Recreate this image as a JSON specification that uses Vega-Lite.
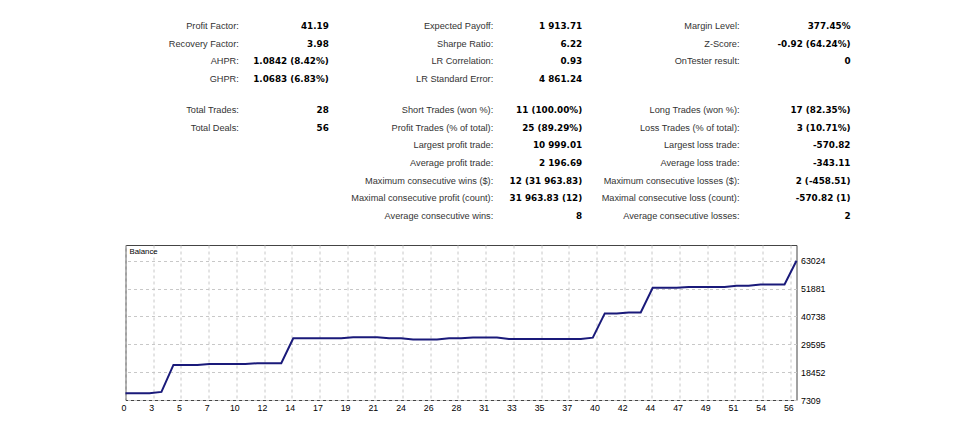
{
  "$schema": "https://vega.github.io/schema/vega-lite/v6.json",
  "padding": {"left": 120.5, "top": 0, "right": 0, "bottom": 0},
  "background": "white",
  "spacing": 19,
  "datasets": {
    "stats": [
      {"g": 1, "r": 1, "label": "Profit Factor:", "value": "41.19"},
      {"g": 1, "r": 2, "label": "Recovery Factor:", "value": "3.98"},
      {"g": 1, "r": 3, "label": "AHPR:", "value": "1.0842 (8.42%)"},
      {"g": 1, "r": 4, "label": "GHPR:", "value": "1.0683 (6.83%)"},
      {"g": 1, "r": 5, "label": "Total Trades:", "value": "28"},
      {"g": 1, "r": 6, "label": "Total Deals:", "value": "56"},
      {"g": 2, "r": 1, "label": "Expected Payoff:", "value": "1 913.71"},
      {"g": 2, "r": 2, "label": "Sharpe Ratio:", "value": "6.22"},
      {"g": 2, "r": 3, "label": "LR Correlation:", "value": "0.93"},
      {"g": 2, "r": 4, "label": "LR Standard Error:", "value": "4 861.24"},
      {"g": 2, "r": 5, "label": "Short Trades (won %):", "value": "11 (100.00%)"},
      {"g": 2, "r": 6, "label": "Profit Trades (% of total):", "value": "25 (89.29%)"},
      {"g": 2, "r": 7, "label": "Largest profit trade:", "value": "10 999.01"},
      {"g": 2, "r": 8, "label": "Average profit trade:", "value": "2 196.69"},
      {"g": 2, "r": 9, "label": "Maximum consecutive wins ($):", "value": "12 (31 963.83)"},
      {"g": 2, "r": 10, "label": "Maximal consecutive profit (count):", "value": "31 963.83 (12)"},
      {"g": 2, "r": 11, "label": "Average consecutive wins:", "value": "8"},
      {"g": 3, "r": 1, "label": "Margin Level:", "value": "377.45%"},
      {"g": 3, "r": 2, "label": "Z-Score:", "value": "-0.92 (64.24%)"},
      {"g": 3, "r": 3, "label": "OnTester result:", "value": "0"},
      {"g": 3, "r": 5, "label": "Long Trades (won %):", "value": "17 (82.35%)"},
      {"g": 3, "r": 6, "label": "Loss Trades (% of total):", "value": "3 (10.71%)"},
      {"g": 3, "r": 7, "label": "Largest loss trade:", "value": "-570.82"},
      {"g": 3, "r": 8, "label": "Average loss trade:", "value": "-343.11"},
      {"g": 3, "r": 9, "label": "Maximum consecutive losses ($):", "value": "2 (-458.51)"},
      {"g": 3, "r": 10, "label": "Maximal consecutive loss (count):", "value": "-570.82 (1)"},
      {"g": 3, "r": 11, "label": "Average consecutive losses:", "value": "2"}
    ],
    "balance": [
      {"deal": 0, "balance": 10000}, {"deal": 1, "balance": 10000}, {"deal": 2, "balance": 10000},
      {"deal": 3, "balance": 10560}, {"deal": 4, "balance": 21350}, {"deal": 5, "balance": 21350},
      {"deal": 6, "balance": 21350}, {"deal": 7, "balance": 21750}, {"deal": 8, "balance": 21750},
      {"deal": 9, "balance": 21750}, {"deal": 10, "balance": 21750}, {"deal": 11, "balance": 21990},
      {"deal": 12, "balance": 21990}, {"deal": 13, "balance": 21990}, {"deal": 14, "balance": 31970},
      {"deal": 15, "balance": 31970}, {"deal": 16, "balance": 31970}, {"deal": 17, "balance": 31970},
      {"deal": 18, "balance": 31970}, {"deal": 19, "balance": 32370}, {"deal": 20, "balance": 32370},
      {"deal": 21, "balance": 32370}, {"deal": 22, "balance": 31970}, {"deal": 23, "balance": 31970},
      {"deal": 24, "balance": 31500}, {"deal": 25, "balance": 31500}, {"deal": 26, "balance": 31500},
      {"deal": 27, "balance": 31970}, {"deal": 28, "balance": 31970}, {"deal": 29, "balance": 32300},
      {"deal": 30, "balance": 32300}, {"deal": 31, "balance": 32300}, {"deal": 32, "balance": 31750},
      {"deal": 33, "balance": 31750}, {"deal": 34, "balance": 31750}, {"deal": 35, "balance": 31750},
      {"deal": 36, "balance": 31750}, {"deal": 37, "balance": 31750}, {"deal": 38, "balance": 31750},
      {"deal": 39, "balance": 32250}, {"deal": 40, "balance": 41950}, {"deal": 41, "balance": 41950},
      {"deal": 42, "balance": 42350}, {"deal": 43, "balance": 42350}, {"deal": 44, "balance": 52220},
      {"deal": 45, "balance": 52220}, {"deal": 46, "balance": 52220}, {"deal": 47, "balance": 52500},
      {"deal": 48, "balance": 52500}, {"deal": 49, "balance": 52500}, {"deal": 50, "balance": 52500},
      {"deal": 51, "balance": 53020}, {"deal": 52, "balance": 53020}, {"deal": 53, "balance": 53540},
      {"deal": 54, "balance": 53540}, {"deal": 55, "balance": 53540}, {"deal": 56, "balance": 63010}
    ]
  },
  "vconcat": [
    {
      "width": 740,
      "height": 225,
      "view": {"stroke": null},
      "data": {"name": "stats"},
      "layer": [
        {
          "mark": {"type": "text", "align": "right", "baseline": "middle", "font": "Liberation Sans", "fontSize": 9.2, "color": "#333333"},
          "encoding": {
            "x": {"field": "g", "type": "quantitative", "scale": {"domain": [1, 2, 3], "range": [113.3, 367.7, 614], "nice": false, "zero": false}, "axis": null},
            "y": {"field": "r", "type": "quantitative", "scale": {"domain": [1, 4, 5, 11], "range": [25.7, 79.3, 110, 216], "nice": false, "zero": false}, "axis": null},
            "text": {"field": "label"}
          }
        },
        {
          "mark": {"type": "text", "align": "right", "baseline": "middle", "font": "DejaVu Sans", "fontWeight": "bold", "fontSize": 8.8, "color": "#000000"},
          "encoding": {
            "x": {"field": "g", "type": "quantitative", "scale": {"domain": [1, 2, 3], "range": [203.3, 456.7, 725], "nice": false, "zero": false}, "axis": null},
            "y": {"field": "r", "type": "quantitative", "scale": {"domain": [1, 4, 5, 11], "range": [25.7, 79.3, 110, 216], "nice": false, "zero": false}, "axis": null},
            "text": {"field": "value"}
          }
        }
      ],
      "resolve": {"scale": {"x": "independent"}}
    },
    {
      "width": 671,
      "height": 155,
      "view": {"stroke": "#444444", "strokeWidth": 1},
      "layer": [
        {
          "data": {"name": "balance"},
          "mark": {"type": "line", "color": "#1a1a7a", "strokeWidth": 2},
          "encoding": {
            "x": {
              "field": "deal", "type": "quantitative",
              "scale": {"domain": [0, 56], "nice": false, "zero": false},
              "axis": {
                "title": null,
                "values": [0, 2.312, 4.624, 6.936, 9.248, 11.56, 13.872, 16.184, 18.496, 20.808, 23.12, 25.432, 27.744, 30.056, 32.368, 34.68, 36.992, 39.304, 41.616, 43.928, 46.24, 48.552, 50.864, 53.176, 55.488],
                "tickCount": 100,
                "labelExpr": "ceil(datum.value)",
                "grid": true, "gridDash": [3, 3], "gridColor": "#c8c8c8", "gridWidth": 1,
                "ticks": false, "domain": false,
                "labelFont": "Liberation Sans", "labelFontSize": 8.8, "labelColor": "#000000",
                "labelPadding": 3, "labelOffset": -2, "labelFlush": false, "labelOverlap": false
              }
            },
            "y": {
              "field": "balance", "type": "quantitative",
              "scale": {"domain": [7309, 69300], "nice": false, "zero": false},
              "axis": {
                "title": null, "orient": "right",
                "values": [7309, 18452, 29595, 40738, 51881, 63024],
                "tickCount": 100,
                "format": "d",
                "grid": true, "gridDash": [3, 3], "gridColor": "#c8c8c8", "gridWidth": 1,
                "ticks": false, "domain": false,
                "labelFont": "Liberation Sans", "labelFontSize": 8.8, "labelColor": "#000000",
                "labelPadding": 4, "labelFlush": false, "labelOverlap": false
              }
            }
          }
        },
        {
          "data": {"values": [{"t": "Balance"}]},
          "mark": {"type": "text", "align": "left", "baseline": "top", "dx": 4, "dy": 3, "font": "Liberation Sans", "fontSize": 7.8, "color": "#000000"},
          "encoding": {
            "x": {"datum": 0, "type": "quantitative"},
            "y": {"datum": 69300, "type": "quantitative"},
            "text": {"field": "t"}
          }
        }
      ]
    }
  ]
}
